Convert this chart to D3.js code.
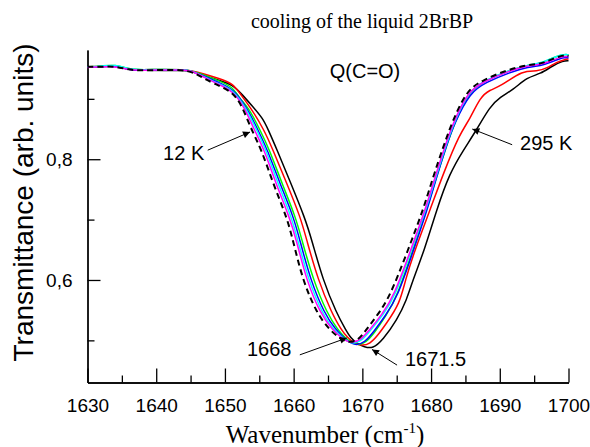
<!DOCTYPE html>
<html>
<head>
<meta charset="utf-8">
<script src="https://cdnjs.cloudflare.com/ajax/libs/d3/7.8.5/d3.min.js"></script>
<style>
	html, body { margin: 0; padding: 0; background: #fff; }
	svg text { font-family: Arial, "Liberation Sans", sans-serif; fill: #000; }
	svg .serif { font-family: "Times New Roman", "Liberation Serif", serif; }
</style>
</head>
<body>
<div id="chart"></div>
<script>
'use strict';

// spectra, [wavenumber, transmittance]
var curve295K = [
	[1630,0.953],[1632,0.953],[1634,0.955],[1636,0.948],[1638,0.947],[1641,0.947],[1644,0.947],[1645,0.946],
	[1647.1,0.938],[1649.1,0.931],[1651.15,0.923],[1652.45,0.908],[1654.05,0.887],[1655.5,0.868],[1656.3,0.849],
	[1657.6,0.815],[1659.6,0.760],[1661.6,0.704],[1662.65,0.666],[1664.25,0.600],[1666.25,0.545],[1667.6,0.517],
	[1668.3,0.504],[1669.2,0.495],[1670.3,0.489],[1671.5,0.486],[1673.0,0.501],[1675.05,0.534],[1676.45,0.567],
	[1677.35,0.600],[1679.05,0.650],[1680.8,0.716],[1682.7,0.777],[1684.7,0.815],[1686.65,0.849],[1688.55,0.887],
	[1690.05,0.903],[1691.95,0.915],[1694.0,0.936],[1695.9,0.941],[1697.7,0.955],[1699.2,0.963],[1700,0.963]
];
var curveRed = [
	[1630,0.953],[1632,0.954],[1634,0.956],[1636,0.949],[1638,0.948],[1641,0.949],[1644,0.948],[1645,0.947],
	[1647.1,0.941],[1649.1,0.934],[1651.15,0.926],[1652.35,0.906],[1653.65,0.887],[1655.7,0.849],[1657.0,0.815],
	[1659.0,0.760],[1661.0,0.704],[1661.9,0.666],[1663.55,0.600],[1665.55,0.545],[1666.95,0.517],[1667.9,0.504],
	[1668.8,0.495],[1669.9,0.491],[1671.1,0.494],[1672.3,0.509],[1673.5,0.528],[1675.45,0.561],[1676.25,0.600],
	[1677.65,0.650],[1679.85,0.716],[1681.8,0.777],[1684.2,0.843],[1685.6,0.865],[1687.15,0.903],[1688.55,0.915],
	[1690.05,0.920],[1693.4,0.948],[1695.4,0.945],[1696.9,0.951],[1698.3,0.961],[1699.4,0.965],[1700,0.966]
];
var curveGreen = [
	[1630,0.953],[1632,0.954],[1634,0.957],[1636,0.949],[1638,0.948],[1641,0.949],[1644,0.948],[1645,0.947],
	[1647.1,0.939],[1649.1,0.930],[1651.15,0.920],[1652.15,0.900],[1653.35,0.887],[1655.1,0.849],[1656.5,0.815],
	[1658.3,0.760],[1660.3,0.704],[1661.2,0.666],[1662.85,0.600],[1664.85,0.545],[1666.45,0.517],[1667.55,0.504],
	[1668.4,0.496],[1669.4,0.492],[1670.5,0.496],[1671.8,0.513],[1673.4,0.540],[1675.05,0.572],[1677.35,0.650],
	[1679.35,0.716],[1680.8,0.771],[1682.2,0.821],[1683.4,0.860],[1685.6,0.913],[1687.85,0.930],[1691.35,0.947],
	[1694.1,0.956],[1695.9,0.958],[1697.3,0.966],[1699.2,0.974],[1700,0.973]
];
var curveBlue = [
	[1630,0.953],[1632,0.953],[1634,0.955],[1636,0.948],[1638,0.947],[1641,0.948],[1644,0.948],[1645,0.947],
	[1647.1,0.937],[1649.1,0.927],[1651.15,0.917],[1653.1,0.887],[1654.8,0.849],[1656.2,0.815],[1658.0,0.760],
	[1660.0,0.704],[1660.9,0.666],[1662.45,0.600],[1664.45,0.545],[1666.15,0.517],[1667.35,0.504],[1668.2,0.496],
	[1669.1,0.492],[1670.3,0.496],[1671.7,0.515],[1673.3,0.540],[1675.15,0.572],[1677.45,0.650],[1679.45,0.716],
	[1680.8,0.771],[1682.2,0.821],[1683.4,0.860],[1685.7,0.911],[1687.95,0.927],[1691.45,0.944],[1694.2,0.953],
	[1696.1,0.955],[1697.5,0.961],[1699.3,0.969],[1700,0.968]
];
var curveCyan = [
	[1630,0.953],[1632,0.954],[1634,0.957],[1636,0.949],[1638,0.948],[1641,0.949],[1644,0.948],[1645,0.947],
	[1647.1,0.936],[1649.1,0.925],[1651.15,0.915],[1652.95,0.887],[1654.6,0.849],[1656.0,0.815],[1657.7,0.760],
	[1659.7,0.704],[1660.6,0.666],[1662.15,0.600],[1664.15,0.545],[1665.85,0.517],[1667.15,0.504],[1668.0,0.497],
	[1668.8,0.495],[1670.0,0.500],[1671.3,0.518],[1673.0,0.542],[1674.75,0.572],[1677.15,0.650],[1679.25,0.716],
	[1680.7,0.771],[1682.1,0.821],[1683.3,0.860],[1685.5,0.913],[1687.75,0.930],[1691.25,0.947],[1694.1,0.956],
	[1695.9,0.959],[1697.3,0.966],[1699.2,0.974],[1700,0.973]
];
var curveMagenta = [
	[1630,0.952],[1632,0.953],[1634,0.954],[1636,0.948],[1638,0.947],[1641,0.948],[1644,0.948],[1645,0.947],
	[1647.1,0.935],[1649.1,0.924],[1651.15,0.913],[1652.8,0.887],[1654.25,0.849],[1655.75,0.815],[1657.4,0.760],
	[1659.4,0.704],[1660.4,0.666],[1661.85,0.600],[1663.85,0.545],[1665.65,0.517],[1667.0,0.504],[1667.8,0.498],
	[1668.5,0.496],[1669.8,0.501],[1671.1,0.518],[1672.8,0.542],[1674.55,0.572],[1677.05,0.650],[1679.15,0.716],
	[1680.6,0.771],[1682.0,0.821],[1683.2,0.860],[1685.4,0.913],[1687.75,0.929],[1691.25,0.946],[1694.1,0.955],
	[1696.0,0.957],[1697.4,0.963],[1699.3,0.971],[1700,0.970]
];
var curve12K = [
	[1630,0.953],[1632,0.953],[1634,0.954],[1636,0.948],[1638,0.947],[1641,0.948],[1644.8,0.948],[1646.6,0.936],
	[1648.25,0.926],[1651.15,0.912],[1652.55,0.887],[1653.85,0.849],[1655.35,0.815],[1657.0,0.760],[1659.0,0.704],
	[1659.9,0.666],[1661.3,0.600],[1663.35,0.545],[1665.25,0.517],[1666.75,0.503],[1668.0,0.496],[1669.4,0.500],
	[1670.6,0.518],[1672.2,0.542],[1674.0,0.572],[1676.65,0.650],[1678.85,0.716],[1680.3,0.771],[1681.8,0.821],
	[1683.0,0.860],[1685.2,0.915],[1687.55,0.931],[1691.05,0.948],[1694.0,0.956],[1695.9,0.958],[1697.3,0.964],
	[1699.2,0.973],[1700,0.971]
];

var xMajorTicks = [1630, 1640, 1650, 1660, 1670, 1680, 1690, 1700];
var xMinorTicks = [1635, 1645, 1655, 1665, 1675, 1685, 1695];
var yMajorTicks = [0.6, 0.8];
var yMinorTicks = [0.5, 0.7, 0.9];

// annotations: label text, text anchor point, arrow tail, arrow head (data coords)
var notes = [
	{ text: '12 K',   at: [1641.0, 0.799], from: [1647.5, 0.815], to: [1653.65, 0.845] },
	{ text: '295 K',  at: [1692.95, 0.815], from: [1691.8, 0.824], to: [1686.0, 0.850] },
	{ text: '1668',   at: [1653.2, 0.474], from: [1660.9, 0.476], to: [1667.75, 0.504] },
	{ text: '1671.5', at: [1676.2, 0.458], from: [1675.05, 0.459], to: [1671.4, 0.485] }
];

var series = [
	{ data: curve295K, color: '#000000' },
	{ data: curveRed, color: '#ff0000' },
	{ data: curveGreen, color: '#00ff00' },
	{ data: curveBlue, color: '#0000ff' },
	{ data: curveCyan, color: '#00ffff' },
	{ data: curveMagenta, color: '#ff00ff' },
	{ data: curve12K, color: '#000000', dash: '6,4' }
];

var width = 590, height = 447;
var margin = { left: 87.5, right: 21.5, top: 50, bottom: 64.5 };

var x = d3.scaleLinear().domain([1630, 1700]).range([margin.left, width - margin.right]);
var y = d3.scaleLinear().domain([0.4302, 0.9809]).range([height - margin.bottom, margin.top]);

var svg = d3.select('#chart').append('svg')
	.attr('width', width)
	.attr('height', height)
	.style('display', 'block')
	.style('background', '#fff');

svg.append('defs').append('marker')
	.attr('id', 'head')
	.attr('viewBox', '0 0 10 10')
	.attr('refX', 10)
	.attr('refY', 5)
	.attr('markerUnits', 'userSpaceOnUse')
	.attr('markerWidth', 10)
	.attr('markerHeight', 7)
	.attr('orient', 'auto')
	.append('path')
	.attr('d', 'M0,0 L10,5 L0,10 Z')
	.style('fill', '#000');

var commaFmt = function(d) { return d3.format('.1f')(d).replace('.', ','); };

// minor ticks first, then major ticks with labels
svg.append('g')
	.attr('transform', 'translate(0,' + (height - margin.bottom) + ')')
	.call(d3.axisBottom(x).tickValues(xMinorTicks).tickSizeInner(-7).tickSizeOuter(0).tickFormat(''));
svg.append('g')
	.attr('class', 'x axis')
	.attr('transform', 'translate(0,' + (height - margin.bottom) + ')')
	.call(d3.axisBottom(x).tickValues(xMajorTicks).tickSizeInner(-14).tickSizeOuter(0)
		.tickPadding(16.5).tickFormat(d3.format('d')));

svg.append('g')
	.attr('transform', 'translate(' + margin.left + ',0)')
	.call(d3.axisLeft(y).tickValues(yMinorTicks).tickSizeInner(-7).tickSizeOuter(0).tickFormat(''));
svg.append('g')
	.attr('class', 'y axis')
	.attr('transform', 'translate(' + margin.left + ',0)')
	.call(d3.axisLeft(y).tickValues(yMajorTicks).tickSizeInner(-13).tickSizeOuter(0)
		.tickPadding(15).tickFormat(commaFmt));

svg.selectAll('.domain, .tick line').style('stroke', '#000').style('stroke-width', 1.3);
svg.selectAll('.tick text').style('font-size', '19px').style('font-family', 'Arial, "Liberation Sans", sans-serif');

var line = d3.line()
	.x(function(d) { return x(d[0]); })
	.y(function(d) { return y(d[1]); })
	.curve(d3.curveBasis);

svg.append('g').attr('class', 'curves')
	.selectAll('path')
	.data(series)
	.enter().append('path')
	.attr('d', function(s) { return line(s.data); })
	.style('fill', 'none')
	.style('stroke', function(s) { return s.color; })
	.style('stroke-width', function(s) { return s.dash ? 2 : 1.5; })
	.style('stroke-dasharray', function(s) { return s.dash || null; });

var noteG = svg.append('g').attr('class', 'notes');
noteG.selectAll('line')
	.data(notes)
	.enter().append('line')
	.attr('x1', function(n) { return x(n.from[0]); })
	.attr('y1', function(n) { return y(n.from[1]); })
	.attr('x2', function(n) { return x(n.to[0]); })
	.attr('y2', function(n) { return y(n.to[1]); })
	.style('stroke', '#000')
	.style('stroke-width', 1)
	.attr('marker-end', 'url(#head)');
noteG.selectAll('text')
	.data(notes)
	.enter().append('text')
	.attr('x', function(n) { return x(n.at[0]); })
	.attr('y', function(n) { return y(n.at[1]); })
	.style('font-size', '20px')
	.text(function(n) { return n.text; });

svg.append('text')
	.attr('class', 'serif')
	.attr('x', 362)
	.attr('y', 28)
	.attr('text-anchor', 'middle')
	.style('font-size', '20px')
	.text('cooling of the liquid 2BrBP');

svg.append('text')
	.attr('x', 365)
	.attr('y', 78)
	.attr('text-anchor', 'middle')
	.style('font-size', '20px')
	.text('Q(C=O)');

svg.append('text')
	.attr('transform', 'translate(33,202.5) rotate(-90)')
	.attr('text-anchor', 'middle')
	.style('font-size', '28px')
	.text('Transmittance (arb. units)');

var xt = svg.append('text')
	.attr('class', 'serif')
	.attr('x', 325)
	.attr('y', 443)
	.attr('text-anchor', 'middle')
	.style('font-size', '25px');
xt.append('tspan').text('Wavenumber (cm');
xt.append('tspan').attr('dy', -10).style('font-size', '15px').text('-1');
xt.append('tspan').attr('dy', 10).text(')');
</script>
</body>
</html>
